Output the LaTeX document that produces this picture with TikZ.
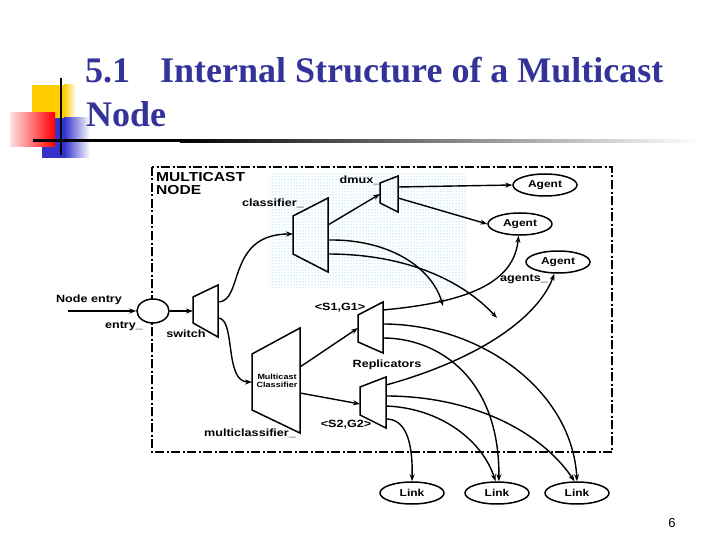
\documentclass[tikz,border=0pt]{standalone}
\usepackage{fontspec}
\setmainfont{Liberation Serif}
\setsansfont{Liberation Sans}
\newfontfamily\diagfont{Liberation Sans}[FakeStretch=1.2]
\usetikzlibrary{shapes.geometric,patterns,arrows.meta}

\definecolor{titleblue}{RGB}{51,51,153}
\definecolor{decoyellow}{RGB}{255,204,0}
\definecolor{decoblue}{RGB}{51,51,204}
\definecolor{dotcyan}{RGB}{90,190,215}

\tikzset{
  titletext/.style={font=\bfseries\fontsize{36}{40}\selectfont, text=titleblue, inner sep=0pt},
  lbl/.style={font=\diagfont\bfseries\fontsize{10.5}{12}\selectfont, inner sep=0pt},
  trap/.style={line width=1.5pt, line join=miter},
  conn/.style={line width=1.4pt, ->},
  oval/.style={ellipse, draw, line width=1.5pt, minimum width=64pt, minimum height=22pt,
    inner sep=0pt, font=\diagfont\bfseries\fontsize{10}{12}\selectfont},
  nodeborder/.style={line width=1.2pt, dash pattern=on 9pt off 2.5pt on 2pt off 2.5pt},
}

\begin{document}
\begin{tikzpicture}[x=1pt, y=-1pt, >={Stealth[length=7pt, width=5pt]}]
    \useasboundingbox (0,0) rectangle (720,540);

    % slide decoration
    \fill[decoyellow] (32,85) rectangle (64,127);
    \shade[left color=decoyellow, right color=white] (64,85) rectangle (76,127);
    \fill[decoblue] (42,118) rectangle (64,158);
    \shade[left color=decoblue, right color=white] (64,118) rectangle (90,158);
    \shade[left color=red!12, right color=red] (10,113) rectangle (55,147);
    \fill[black] (33,139.5) rectangle (180,142.5);
    \shade[left color=black, right color=white] (180,139.5) rectangle (700,142.5);
    \draw[line width=2.5pt] (61,78) -- (61,155);

    \node[titletext, anchor=base west] (title1) at (85,83) {5.1\hspace{30pt}Internal Structure of a Multicast};
    \node[titletext, anchor=base west] (title2) at (86,127) {Node};

    % multicast node
    \fill[pattern=dots, pattern color=dotcyan] (270,173) rectangle (467,288);
    \draw[nodeborder] (152,167) rectangle (612,452);
    \node[lbl, font=\diagfont\bfseries\fontsize{13}{13}\selectfont, anchor=north west, align=left]
        (mcnode) at (156,172) {MULTICAST\\NODE};

    % switch
    \draw[trap] (193,297) -- (218,285) -- (218,337) -- (193,323) -- cycle;
    \coordinate (swin) at (193,311);
    \coordinate (swouta) at (218,302);
    \coordinate (swoutb) at (218,318);

    % classifier_
    \draw[trap] (293,216) -- (328,198) -- (328,272) -- (293,254) -- cycle;
    \coordinate (clsin) at (293,234);
    \coordinate (clsouta) at (328,225);
    \coordinate (clsoutb) at (328,240);
    \coordinate (clsoutc) at (328,254);

    % dmux_
    \draw[trap] (380,183) -- (398,176) -- (398,212) -- (380,203) -- cycle;
    \coordinate (dmuxin) at (380,194);
    \coordinate (dmuxouta) at (398,187);
    \coordinate (dmuxoutb) at (398,198);

    % multiclassifier_
    \draw[trap] (252,354) -- (300,328) -- (300,433) -- (252,410) -- cycle;
    \coordinate (mclsin) at (252,382);
    \coordinate (mclsouta) at (300,367);
    \coordinate (mclsoutb) at (300,393);
    \node[lbl, font=\diagfont\bfseries\fontsize{7.5}{8.5}\selectfont, align=center]
        (mclstext) at (277,381) {Multicast\\Classifier};

    % replicators
    \draw[trap] (358,315) -- (383,302) -- (383,353) -- (358,342) -- cycle;
    \coordinate (repain) at (358,328);
    \coordinate (repaouta) at (383,310);
    \coordinate (repaoutb) at (383,324);
    \coordinate (repaoutc) at (383,338);
    \draw[trap] (360,387) -- (386,377) -- (386,428) -- (360,415) -- cycle;
    \coordinate (repbin) at (360,404);
    \coordinate (repbouta) at (386,385);
    \coordinate (repboutb) at (386,396);
    \coordinate (repboutc) at (386,406);
    \coordinate (repboutd) at (386,419);

    % ovals
    \node[ellipse, draw, fill=white, line width=1.5pt, minimum width=32pt, minimum height=24pt,
        inner sep=0pt] (entry) at (153,311) {};
    \node[oval] (agent1) at (545,185) {Agent};
    \node[oval] (agent2) at (520,224) {Agent};
    \node[oval] (agent3) at (558,262) {Agent};
    \node[oval] (link1) at (412,493) {Link};
    \node[oval] (link2) at (497,493) {Link};
    \node[oval] (link3) at (577,493) {Link};

    % labels
    \node[lbl] (entrylbl) at (89,300) {Node entry};
    \node[lbl] (entryname) at (124,326) {entry\_};
    \node[lbl] (swlbl) at (186,334) {switch};
    \node[lbl] (clslbl) at (273,203) {classifier\_};
    \node[lbl] (dmuxlbl) at (360,180) {dmux\_};
    \node[lbl] (mclslbl) at (250,433) {multiclassifier\_};
    \node[lbl] (repalbl) at (340,308) {<S1,G1>};
    \node[lbl] (repblbl) at (346,425) {<S2,G2>};
    \node[lbl] (replbl) at (387,365) {Replicators};
    \node[lbl] (agentslbl) at (524,279) {agents\_};

    % connectors
    \coordinate (entrysrc) at (68,311);
    \coordinate (clsendb) at (443,306);
    \coordinate (clsendc) at (497,318);

    \draw[conn] (entrysrc) -- (entry.west);
    \draw[conn] (entry.east) -- (swin);
    \draw[conn] (swouta) .. controls (244,302) and (226,234) .. (clsin);
    \draw[conn] (swoutb) .. controls (236,318) and (224,382) .. (mclsin);
    \draw[conn] (clsouta) -- (dmuxin);
    \draw[conn] (dmuxouta) -- (agent1.west);
    \draw[conn] (dmuxoutb) -- (agent2.west);
    \draw[conn] (clsoutb) .. controls (390,239) and (432,268) .. (clsendb);
    \draw[conn] (clsoutc) .. controls (405,254) and (462,280) .. (clsendc);
    \draw[conn] (mclsouta) -- (repain);
    \draw[conn] (mclsoutb) -- (repbin);
    \draw[conn] (repaouta) .. controls (470,302) and (514,282) .. (agent2.263);
    \draw[conn] (repbouta) .. controls (470,362) and (536,322) .. (agent3.253);
    \draw[conn] (repaoutb) .. controls (480,324) and (572,390) .. (link3.90);
    \draw[conn] (repaoutc) .. controls (440,338) and (500,380) .. (link2.81);
    \draw[conn] (repboutb) .. controls (470,396) and (540,430) .. (link3.102);
    \draw[conn] (repboutc) .. controls (440,408) and (482,440) .. (link2.97);
    \draw[conn] (repboutd) .. controls (405,419) and (413,440) .. (link1.90);

    \node[font=\sffamily\fontsize{13}{14}\selectfont] (pagenum) at (672,523) {6};
\end{tikzpicture}
\end{document}
